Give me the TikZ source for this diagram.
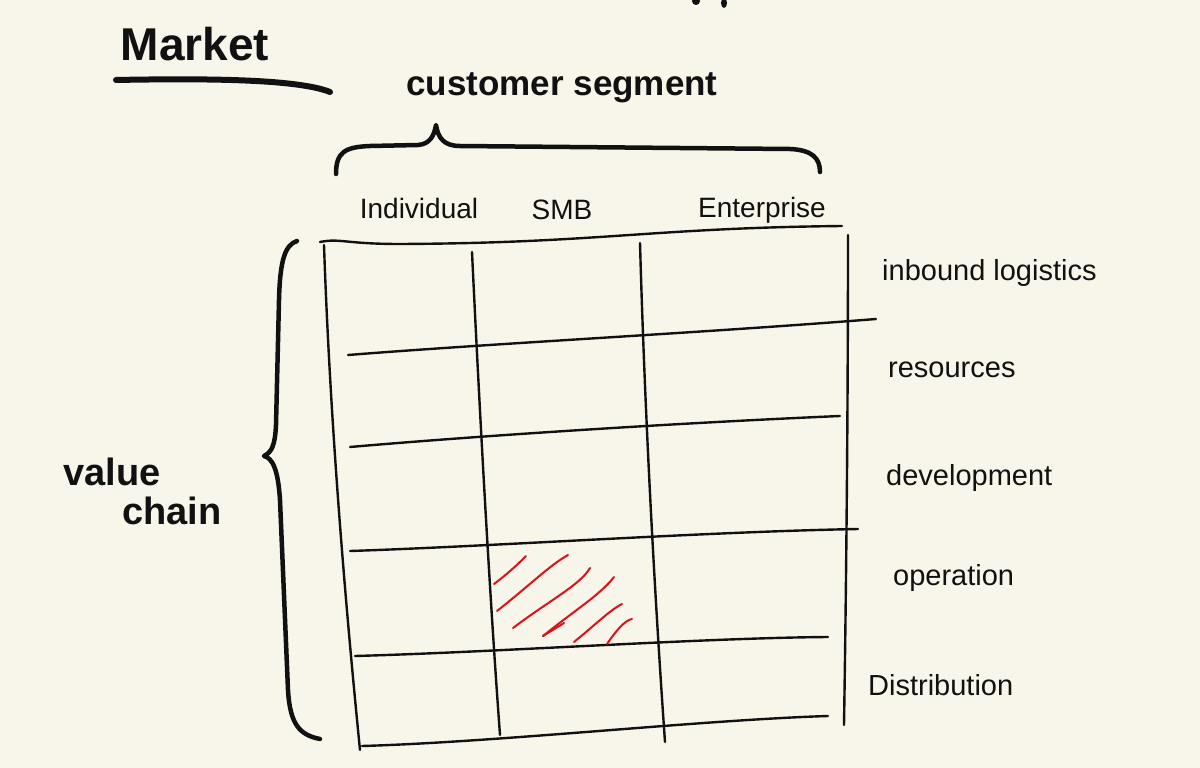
\documentclass[tikz,border=0pt]{standalone}
\usepackage{fontspec}
\setmainfont{Liberation Sans}
\definecolor{paper}{HTML}{F8F6EA}
\definecolor{ink}{HTML}{111111}
\definecolor{hatch}{HTML}{DD1118}
\begin{document}
\begin{tikzpicture}[x=1pt,y=-1pt,
  grid/.style={draw=ink,line width=2.4pt,line cap=round},
  brace/.style={draw=ink,line width=4.5pt,line cap=round,line join=round},
  hatchline/.style={draw=hatch,line width=2pt,line cap=round},
  title/.style={font=\bfseries\fontsize{46}{50}\selectfont,text=ink,inner sep=0pt},
  bold/.style={font=\bfseries\fontsize{35}{40}\selectfont,text=ink,inner sep=0pt},
  vbold/.style={font=\bfseries\fontsize{38}{42}\selectfont,text=ink,inner sep=0pt},
  head/.style={font=\fontsize{28}{32}\selectfont,text=ink,inner sep=0pt},
  rowlab/.style={font=\fontsize{29}{33}\selectfont,text=ink,inner sep=0pt,anchor=west}]
\fill[paper] (0,0) rectangle (1200,768);
\useasboundingbox (0,0) rectangle (1200,768);
% top cut-off marks
\fill[ink] (696,1) circle (4);
\fill[ink] (724,3) ellipse (3 and 5);
% Market
\node[title] (market) at (195,44) {Market};
\coordinate (ul1) at (116,80);
\coordinate (ul2) at (330,92);
\draw[ink,line width=6pt,line cap=round] (ul1) .. controls (220,78) and (300,80) .. (ul2);
% customer segment
\node[bold] (cseg) at (562,88) {customer segment};
% top brace
\coordinate (tb1) at (336,174);
\coordinate (tbtip) at (436,125);
\coordinate (tb2) at (820,172);
\draw[brace] (tb1) .. controls (336,152) and (345,147) .. (370,146)
  -- (418,145) .. controls (430,144) and (434,136) .. (tbtip)
  .. controls (438,138) and (444,146) .. (460,146)
  -- (790,149) .. controls (812,150) and (820,158) .. (tb2);
% column headers
\node[head] (indiv) at (419,208) {Individual};
\node[head] (smb) at (562,210) {SMB};
\node[head] (ent) at (762,210) {Enterprise};
% grid coordinates
\coordinate (v1a) at (324,245); \coordinate (v1b) at (360,750);
\coordinate (v2a) at (472,252); \coordinate (v2b) at (500,735);
\coordinate (v3a) at (640,243); \coordinate (v3b) at (665,742);
\coordinate (v4a) at (848,235); \coordinate (v4b) at (844,725);
\coordinate (h0a) at (320,242); \coordinate (h0b) at (842,226);
\coordinate (h1a) at (348,355); \coordinate (h1b) at (876,319);
\coordinate (h2a) at (350,447); \coordinate (h2b) at (840,416);
\coordinate (h3a) at (350,551); \coordinate (h3b) at (858,529);
\coordinate (h4a) at (355,656); \coordinate (h4b) at (828,637);
\coordinate (h5a) at (362,746); \coordinate (h5b) at (828,716);
\draw[grid] (h0a) .. controls (340,238) and (345,244) .. (400,244) .. controls (600,243) and (650,228) .. (h0b);
\draw[grid] (v1a) .. controls (330,420) and (345,600) .. (v1b);
\draw[grid] (v2a) .. controls (480,420) and (490,600) .. (v2b);
\draw[grid] (v3a) .. controls (645,420) and (655,600) .. (v3b);
\draw[grid] (v4a) .. controls (848,420) and (846,600) .. (v4b);
\draw[grid] (h1a) .. controls (500,343) and (700,333) .. (h1b);
\draw[grid] (h2a) .. controls (500,434) and (700,422) .. (h2b);
\draw[grid] (h3a) .. controls (500,546) and (700,532) .. (h3b);
\draw[grid] (h4a) .. controls (500,652) and (700,638) .. (h4b);
\draw[grid] (h5a) .. controls (500,742) and (700,720) .. (h5b);
% red hatching
\draw[hatchline] (494,584) .. controls (510,572) and (520,562) .. (526,556);
\draw[hatchline] (497,611) .. controls (530,585) and (550,565) .. (568,555);
\draw[hatchline] (513,628) .. controls (550,600) and (580,585) .. (590,568);
\draw[hatchline] (543,636) .. controls (575,610) and (600,595) .. (614,577);
\draw[hatchline] (543,636) -- (564,623);
\draw[hatchline] (574,642) .. controls (595,625) and (610,610) .. (622,604);
\draw[hatchline] (607,644) .. controls (615,632) and (625,620) .. (632,619);
% row labels
\node[rowlab] (r1) at (882,273) {inbound logistics};
\node[rowlab] (r2) at (888,370) {resources};
\node[rowlab] (r3) at (886,478) {development};
\node[rowlab] (r4) at (893,578) {operation};
\node[rowlab] (r5) at (868,685) {Distribution};
% left brace
\coordinate (lb1) at (297,241);
\coordinate (lbtip) at (264,456);
\coordinate (lb2) at (320,739);
\draw[brace] (lb1) .. controls (285,245) and (280,260) .. (279,300)
  -- (276,425) .. controls (275,445) and (272,452) .. (lbtip)
  .. controls (272,458) and (278,468) .. (280,500)
  -- (288,690) .. controls (290,725) and (300,735) .. (lb2);
% value chain
\node[vbold] (val) at (112,472) {value};
\node[vbold] (chain) at (172,511) {chain};
\end{tikzpicture}
\end{document}
